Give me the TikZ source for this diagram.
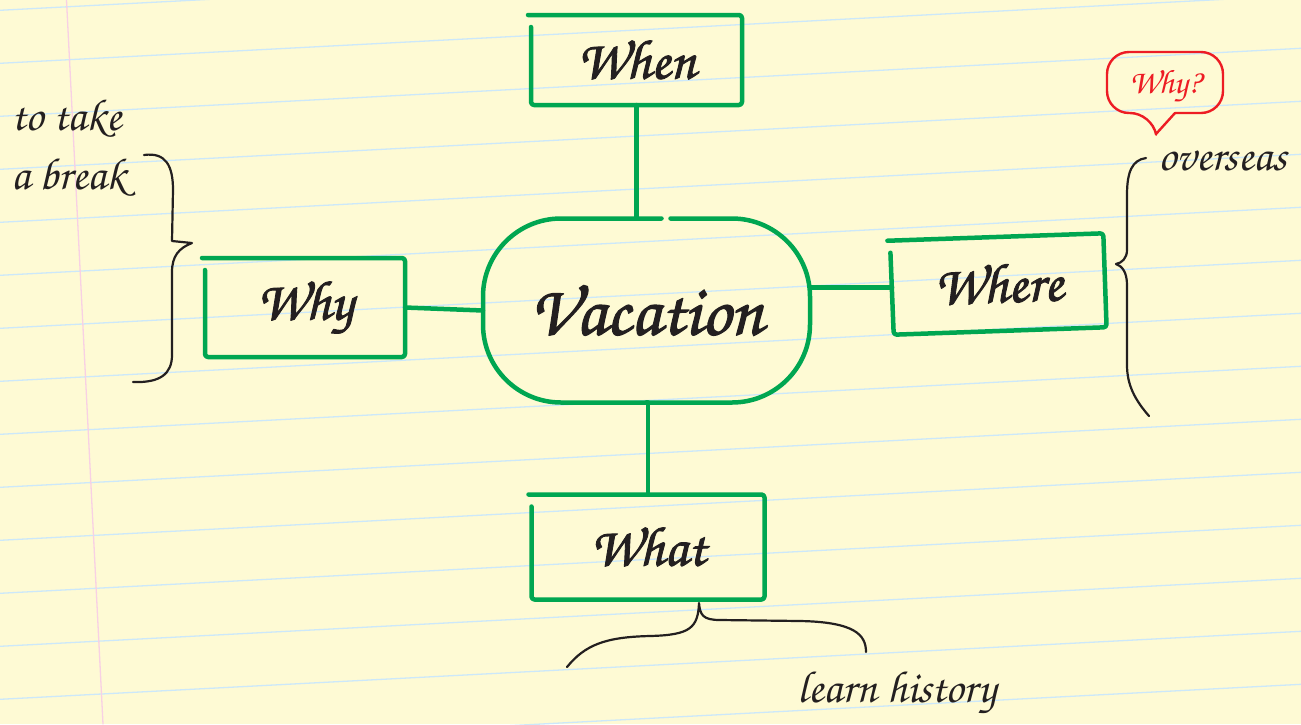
\documentclass[tikz,border=0pt]{standalone}
\usepackage{fontspec}
\newfontfamily\handfont{texgyrechorus-mediumitalic.otf}
\newfontfamily\boldhand[FakeBold=1.6]{texgyrechorus-mediumitalic.otf}
\usetikzlibrary{calc}

\definecolor{paper}{RGB}{254,250,212}
\definecolor{ruleblue}{RGB}{204,232,250}
\definecolor{marginpink}{RGB}{248,208,228}
\definecolor{mapgreen}{RGB}{0,166,81}
\definecolor{ink}{RGB}{35,31,32}
\definecolor{notered}{RGB}{237,28,36}

% hand drawn outline of a box node, open at the top left corner
\newcommand\sketchbox[1]{%
    \draw[greenline, rounded corners=3pt] ([yshift=-12pt]#1.north west) -- (#1.south west) -- (#1.south east) -- (#1.north east) -- ([xshift=-3pt]#1.north west);
}

\begin{document}
\begin{tikzpicture}[x=1pt, y=-1pt, line cap=round, line join=round,
    greenline/.style={draw=mapgreen, line width=4.5pt},
    box/.style={inner sep=0pt, outer sep=0pt, text=ink, font=\boldhand\fontsize{56}{56}\selectfont},
    note/.style={inner sep=0pt, text=ink, align=left, font=\handfont\fontsize{45}{59}\selectfont},
    brace/.style={draw=ink, line width=2.2pt}
]
    % Paper
    \useasboundingbox (0,0) rectangle (1301,724);
    \fill[paper] (0,0) rectangle (1301,724);
    \foreach \k in {0,...,14} {
        \draw[ruleblue, line width=1.3pt] (0,{10.3+53*\k}) -- (1301,{10.3+53*\k-68});
    }
    \draw[marginpink, line width=1.3pt] (66.5,0) -- (103,724);

    % Centre
    \node[box, minimum width=327pt, minimum height=184pt, font=\boldhand\fontsize{72}{72}\selectfont] (vacation) at (646.5,310.5) {Vacation};
    \draw[greenline, rounded corners=78pt] ([xshift=24pt]vacation.north) -- (vacation.north east) -- (vacation.south east) -- (vacation.south west) -- (vacation.north west) -- ([xshift=15pt]vacation.north);

    % Question boxes
    \node[box, minimum width=211pt, minimum height=90pt] (when) at (636.5,60) {When};
    \node[box, minimum width=200pt, minimum height=99pt] (why) at (305,307.5) {Why};
    \node[box, minimum width=213pt, minimum height=94pt, rotate=2] (where) at (998.5,284) {Where};
    \node[box, minimum width=233pt, minimum height=105pt] (what) at (648,547) {What};
    \foreach \b in {when, why, where, what} {
        \sketchbox{\b}
    }

    % Connectors
    \draw[greenline] (when.south) -- (when.south |- vacation.north);
    \draw[greenline] (why.east) -- (vacation.west);
    \draw[greenline] (where.west) -- (where.west -| vacation.east);
    \draw[greenline] (vacation.south) -- (vacation.south -| what.north) -- (what.north);

    % Notes
    \node[note, anchor=north west] (breaknote) at (11,100) {to take\\a break};
    \node[note, anchor=base west] (overseas) at (1158,170) {overseas};
    \node[note, anchor=base west] (history) at (797,702) {learn history};
    \node[inner sep=0pt, text=notered, font=\handfont\fontsize{34}{34}\selectfont] (whyq) at (1165,86) {Why?};
    \draw[draw=notered, line width=2.4pt, rounded corners=22pt] (1175,113) -- (1223,113) -- (1223,52) -- (1107,52) -- (1107,113) -- (1152,113) [sharp corners] -- (1156,134) -- (1175,113);

    % Braces
    \draw[brace] (144,155) .. controls (166,152) and (173,166) .. (173,190) -- (172,241) -- (192,243) .. controls (179,248) and (172,256) .. (172,272) -- (172,355) .. controls (172,374) and (160,383) .. (133,382);
    \draw[brace] (1146,158) .. controls (1132,160) and (1127,172) .. (1127,195) -- (1127,250) .. controls (1127,258) and (1122,263) .. (1116,264) .. controls (1122,266) and (1127,272) .. (1127,285) -- (1127,365) .. controls (1127,385) and (1135,400) .. (1149,416);
    \draw[brace] (567,667) .. controls (585,645) and (605,637) .. (650,636) .. controls (690,635) and (698,628) .. (699,603) .. controls (700,615) and (703,620) .. (720,620) -- (800,621) .. controls (855,622) and (866,635) .. (866,652);
\end{tikzpicture}
\end{document}
